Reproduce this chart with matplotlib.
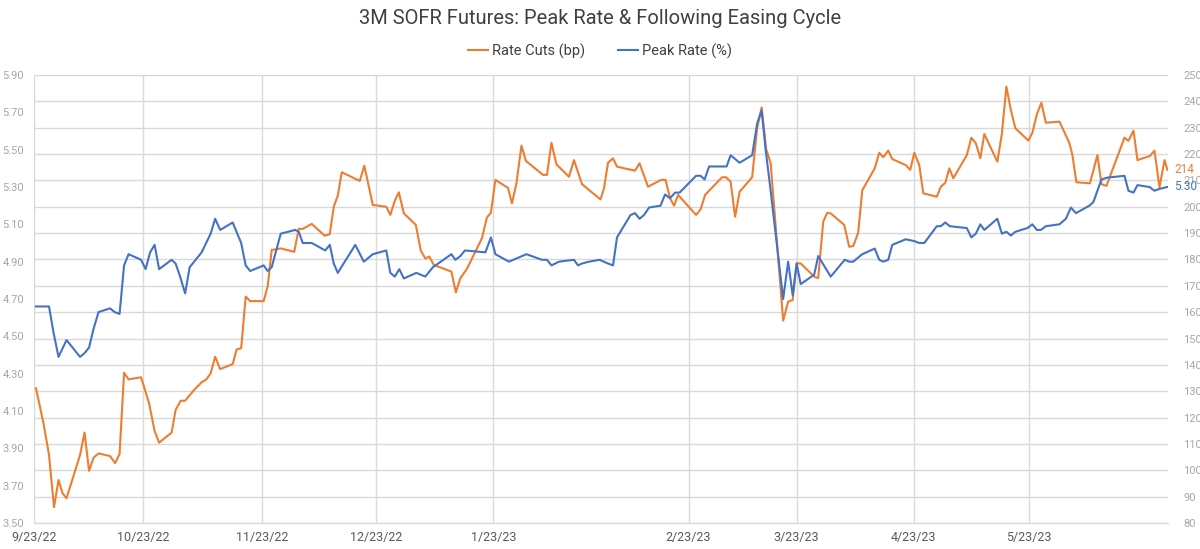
import matplotlib
matplotlib.use("Agg")
import matplotlib.pyplot as plt

peak_obs = [0.4, 3.0, 3.9, 4.9, 6.5, 9.2, 10.1, 11.0, 11.9, 12.9, 15.2, 16.1, 17.1, 18.0, 18.9,
            21.4, 22.3, 23.2, 24.1, 25.0, 27.5, 28.3, 29.2, 30.2, 31.1, 33.5, 35.3, 36.2, 37.2,
            39.7, 41.4, 42.3, 43.2, 45.9, 46.7, 47.5, 49.3, 52.2, 52.9, 53.7, 55.5, 58.2, 59.1,
            59.9, 60.7, 64.2, 65.9, 67.7, 70.4, 71.2, 72.1, 73.0, 73.9, 76.4, 78.2, 79.7, 83.4,
            84.2, 85.2, 86.1, 90.2, 91.3, 92.2, 94.9, 98.4, 101.5, 102.5, 103.4, 104.9, 107.9,
            108.7, 109.5, 110.9, 113.0, 114.7, 115.7, 116.5, 119.2, 120.1, 121.0, 121.9, 122.9,
            125.2, 126.1, 127.1, 128.1, 129.0, 132.3, 133.2, 134.0, 134.9, 136.7, 138.4, 139.2,
            141.0, 143.5, 144.5, 145.4, 146.2, 147.2, 149.7, 150.7, 151.6, 152.4, 153.2, 155.9,
            156.7, 159.2, 162.0, 162.9, 163.7, 165.5, 168.0, 168.9, 169.7, 170.7, 171.5, 174.2,
            175.9, 176.9, 177.9, 180.4, 181.2, 182.1, 183.0, 186.4, 187.3, 188.2, 189.1, 189.9,
            192.5, 193.4, 194.3, 195.2, 196.1, 198.5, 199.5, 200.4, 201.2, 202.2, 204.9, 206.2,
            207.2, 208.2, 210.9, 211.7, 213.3, 214.4, 217.9, 218.7, 219.7, 220.5, 222.9, 223.9,
            224.9, 226.5]
peak_rate = [4.66, 4.66, 4.52, 4.39, 4.48, 4.39, 4.41, 4.44, 4.54, 4.63, 4.65, 4.63, 4.62, 4.88, 4.94,
             4.91, 4.86, 4.95, 4.99, 4.86, 4.91, 4.89, 4.82, 4.73, 4.87, 4.95, 5.05, 5.13, 5.07,
             5.11, 5.00, 4.88, 4.85, 4.88, 4.85, 4.87, 5.05, 5.07, 5.06, 5.00, 5.00, 4.96, 4.99,
             4.89, 4.84, 4.99, 4.90, 4.94, 4.96, 4.84, 4.82, 4.86, 4.81, 4.84, 4.82, 4.87, 4.94,
             4.91, 4.93, 4.96, 4.95, 5.03, 4.94, 4.90, 4.94, 4.91, 4.91, 4.88, 4.90, 4.91,
             4.88, 4.89, 4.90, 4.91, 4.89, 4.88, 5.03, 5.15, 5.16, 5.13, 5.15, 5.19,
             5.20, 5.26, 5.24, 5.27, 5.27, 5.36, 5.36, 5.34, 5.41, 5.41, 5.41, 5.47,
             5.43, 5.47, 5.64, 5.71, 5.50, 5.28, 4.70, 4.90, 4.72, 4.89, 4.78, 4.83,
             4.93, 4.82, 4.91, 4.90, 4.90, 4.94, 4.97, 4.91, 4.90, 4.91, 4.99, 5.02,
             5.01, 5.00, 5.00, 5.09, 5.09, 5.11, 5.09, 5.08, 5.03, 5.05, 5.10, 5.07,
             5.13, 5.05, 5.06, 5.04, 5.06, 5.08, 5.10, 5.07, 5.07, 5.09, 5.10, 5.13,
             5.19, 5.16, 5.20, 5.22, 5.34, 5.35, 5.36, 5.28, 5.27, 5.31, 5.30, 5.28,
             5.29, 5.30]

cuts_obs = [0.4, 1.9, 3.0, 4.0, 4.9, 5.7, 6.5, 9.2, 10.1, 11.0, 11.9, 12.9, 15.2, 16.2, 17.1,
            18.0, 18.9, 21.4, 23.0, 24.1, 25.0, 27.5, 28.3, 29.3, 30.2, 32.0, 33.5, 34.5, 35.3,
            36.2, 37.2, 39.7, 40.5, 41.4, 42.3, 43.2, 45.9, 46.7, 47.5, 49.3, 52.0, 52.9, 53.7,
            55.5, 58.1, 59.1, 59.9, 60.7, 61.5, 65.1, 66.0, 67.7, 70.4, 71.2, 72.1, 72.9, 73.9,
            76.3, 77.3, 78.2, 79.0, 79.9, 83.4, 84.3, 85.2, 86.5, 89.5, 90.5, 91.3, 92.2, 94.7,
            95.5, 96.4, 97.4, 98.3, 101.7, 102.5, 103.4, 104.4, 106.9, 107.9, 109.5, 110.5,
            113.2, 113.9, 114.7, 115.7, 116.5, 120.1, 121.0, 122.7, 125.3, 126.2, 127.1, 127.9,
            128.7, 132.3, 133.2, 134.1, 137.5, 138.3, 139.2, 140.1, 141.0, 143.5, 144.5, 145.4,
            146.3, 147.2, 149.7, 150.7, 151.6, 152.4, 153.2, 155.9, 156.7, 157.7, 158.5, 159.2,
            161.9, 162.9, 163.7, 164.7, 165.5, 168.0, 168.9, 169.7, 170.7, 171.5, 174.2, 175.1,
            175.9, 176.9, 177.7, 180.4, 181.2, 182.1, 182.9, 183.7, 186.4, 187.3, 188.2, 189.1,
            189.9, 192.5, 193.4, 194.3, 195.2, 196.1, 198.7, 199.5, 200.4, 201.3, 202.2, 204.9,
            205.9, 206.9, 207.5, 208.3, 211.0, 212.5, 213.3, 214.3, 217.9, 218.7, 219.7, 220.5,
            223.0, 223.9, 224.9, 225.9, 226.5]
rate_cuts = [131.1, 117.8, 105.8, 86.0, 96.3, 91.3, 89.4, 105.8, 114.3, 99.8, 104.8, 106.4, 105.4, 102.7, 106.2,
             137.0, 134.5, 135.3, 125.4, 114.9, 110.5, 114.3, 122.9, 126.4, 126.4, 130.5, 133.4, 134.6, 136.8,
             143.1, 138.4, 140.3, 145.9, 146.3, 165.9, 164.2, 164.2, 169.9, 183.6, 184.2, 182.9, 191.6, 191.6,
             193.5, 189.0, 189.6, 200.0, 204.2, 213.1, 209.8, 215.6, 200.7, 200.0, 196.9, 202.3, 205.5, 197.5,
             193.1, 183.3, 180.4, 181.1, 177.9, 175.4, 167.5, 172.9, 176.4, 188.0, 195.9, 197.7, 210.2, 207.2,
             201.3, 208.9, 223.2, 217.4, 212.1, 212.1, 224.3, 216.1, 211.4, 217.7, 208.6, 207.0,
             202.8, 207.0, 216.7, 218.4, 215.2, 213.7, 216.5, 207.6, 210.2, 210.2, 203.2, 200.4,
             204.5, 196.9, 199.0, 204.5, 211.2, 211.2, 209.5, 196.2, 205.7, 211.2, 229.8, 237.7,
             221.9, 216.5, 156.8, 164.0, 164.6, 178.5, 178.5, 173.5, 172.9, 194.3, 197.7, 197.5,
             193.1, 184.8, 185.1, 190.2, 206.2, 214.6, 220.5, 218.8, 221.3, 218.1, 215.8, 214.0,
             220.5, 215.8, 205.1, 203.8, 207.6, 209.1, 214.6, 210.8, 219.6, 226.2, 224.1, 218.4,
             227.6, 217.1, 227.6, 245.6, 236.7, 229.8, 225.1, 228.1, 235.1, 239.5, 231.9, 232.3,
             228.3, 224.1, 219.6, 209.3, 208.9, 219.6, 208.6, 207.9, 226.2, 225.0, 228.9, 217.7,
             219.3, 221.3, 207.4, 217.7, 214.0]

tick_obs = [0, 21.8, 45.6, 68.4, 91.8, 130.8, 152.4, 175.8, 198.8]
tick_labels = ["9/23/22", "10/23/22", "11/23/22", "12/23/22", "1/23/23",
               "2/23/23", "3/23/23", "4/23/23", "5/23/23"]

ORANGE = "#ED7D31"
BLUE = "#4472C4"
GRID = "#D9D9D9"

plt.rcParams["font.family"] = ["Roboto", "DejaVu Sans"]

fig = plt.figure(figsize=(12, 5.49), dpi=100)
ax = fig.add_axes([34 / 1200, 1 - 523 / 549, (1168 - 34) / 1200, (523 - 75) / 549])
ax_l = ax.twinx()

# right axis (bp) carries the horizontal grid
ax.plot(cuts_obs, rate_cuts, color=ORANGE, lw=1.5, label="Rate Cuts (bp)", zorder=3)
ax.yaxis.tick_right()
ax.set_ylim(80, 250)
ax.set_yticks(range(80, 251, 10))
ax.grid(axis="both", color=GRID, lw=1)
ax.set_axisbelow(True)

ax_l.plot(peak_obs, peak_rate, color=BLUE, lw=1.5, label="Peak Rate (%)", zorder=3)
ax_l.yaxis.tick_left()
ax_l.set_ylim(3.5, 5.9)
ax_l.set_yticks([3.5 + 0.2 * i for i in range(13)])
ax_l.set_yticklabels([f"{3.5 + 0.2 * i:.2f}" for i in range(13)])

ax.set_xlim(0, 226.6)
ax.set_xticks(tick_obs)
ax.set_xticklabels(tick_labels)

for a in (ax, ax_l):
    for s in ("top", "left", "right"):
        a.spines[s].set_visible(False)
    a.spines["bottom"].set_color(GRID)
    a.tick_params(length=0)

ax.tick_params(axis="y", labelsize=8, labelcolor="#A6A6A6", pad=11)
ax_l.tick_params(axis="y", labelsize=8, labelcolor="#A6A6A6", pad=7)
ax.tick_params(axis="x", labelsize=9, labelcolor="#595959", pad=6)

# end-of-series labels
ax.annotate(f"{rate_cuts[-1]:.0f}", (cuts_obs[-1], rate_cuts[-1]), xytext=(5, 0),
            textcoords="offset points", color=ORANGE, fontsize=8.5, va="center", ha="left",
            annotation_clip=False)
ax_l.annotate(f"{peak_rate[-1]:.2f}", (peak_obs[-1], peak_rate[-1]), xytext=(5, 0),
              textcoords="offset points", color=BLUE, fontsize=8.5, va="center", ha="left",
              annotation_clip=False)

fig.suptitle("3M SOFR Futures: Peak Rate & Following Easing Cycle", y=1 - 19 / 549,
             va="center", fontsize=14.5, color="#404040")
h1, l1 = ax.get_legend_handles_labels()
h2, l2 = ax_l.get_legend_handles_labels()
fig.legend(h1 + h2, l1 + l2, loc="center", bbox_to_anchor=(0.5, 1 - 51 / 549), ncol=2,
           frameon=False, fontsize=10.5, handlelength=1.4, handletextpad=0.3,
           columnspacing=2.2, labelcolor="#404040")

fig.savefig("out.png", dpi=100)
